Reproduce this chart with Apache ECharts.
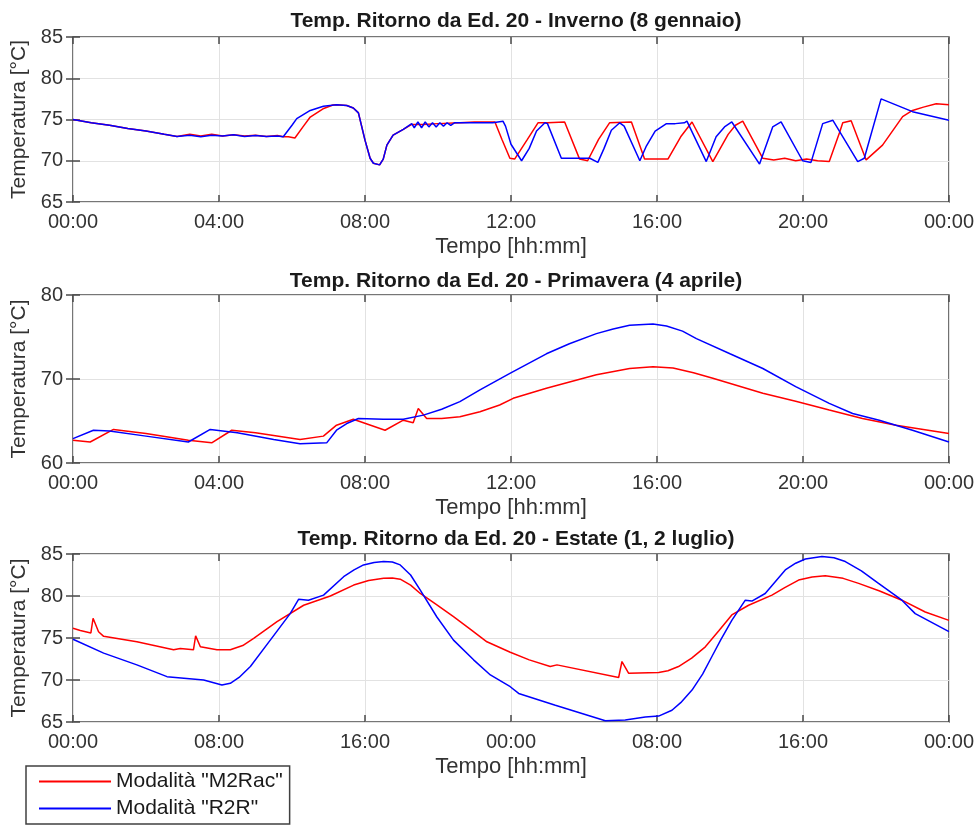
<!DOCTYPE html>
<html>
<head>
<meta charset="utf-8">
<script src="https://cdn.jsdelivr.net/npm/echarts@6/dist/echarts.min.js"></script>
<style>
html,body{margin:0;padding:0;background:#fff;}
#c{width:977px;height:825px;}
</style>
</head>
<body>
<div id="c"></div>
<script>
// ---- Data (hour, °C) ----
const titles = [
  'Temp. Ritorno da Ed. 20 - Inverno (8 gennaio)',
  'Temp. Ritorno da Ed. 20 - Primavera (4 aprile)',
  'Temp. Ritorno da Ed. 20 - Estate (1, 2 luglio)'
];
const seriesNames = ['Modalità "M2Rac"', 'Modalità "R2R"'];
const xRanges = [[0, 24, 4], [0, 24, 4], [0, 48, 8]];
const yRanges = [[65, 85, 5], [60, 80, 10], [65, 85, 5]];

const winterRed = [[0,75.0],[0.5,74.6],[1,74.3],[1.5,73.9],[2,73.6],[2.5,73.2],[2.85,72.95],[3.2,73.2],[3.5,73.0],[3.8,73.2],[4.1,73.0],[4.4,73.15],[4.7,73.0],[5.0,73.1],[5.3,72.95],[5.6,73.05],[5.76,72.9],[5.9,72.9],[6.08,72.75],[6.3,74.1],[6.5,75.3],[6.85,76.3],[7.12,76.75],[7.22,76.8],[7.5,76.7],[7.68,76.4],[7.82,75.8],[8.0,72.5],[8.14,70.3],[8.23,69.7],[8.4,69.5],[8.5,70.2],[8.6,71.9],[8.77,73.1],[9.05,73.8],[9.28,74.4],[9.6,74.4],[10.0,74.5],[10.6,74.6],[11.0,74.7],[11.56,74.7],[11.75,72.6],[11.97,70.3],[12.1,70.2],[12.45,72.6],[12.74,74.6],[13.0,74.6],[13.47,74.7],[13.88,70.2],[14.1,70.0],[14.4,72.6],[14.7,74.6],[15.3,74.7],[15.66,70.2],[16.0,70.2],[16.3,70.2],[16.65,72.9],[16.96,74.7],[17.53,69.9],[17.95,73.2],[18.15,74.3],[18.35,74.8],[18.9,70.3],[19.2,70.1],[19.5,70.3],[19.8,70.0],[20.1,70.2],[20.4,70.0],[20.72,69.9],[21.0,73.4],[21.09,74.6],[21.32,74.85],[21.73,70.1],[22.18,71.9],[22.73,75.35],[23.0,76.1],[23.3,76.5],[23.65,76.9],[24,76.8]];
const winterBlue = [[0,75.0],[0.5,74.6],[1,74.3],[1.5,73.9],[2,73.6],[2.5,73.2],[2.85,72.95],[3.2,73.1],[3.5,72.9],[3.8,73.1],[4.1,73.0],[4.4,73.15],[4.7,72.95],[5.0,73.05],[5.3,72.95],[5.6,73.0],[5.76,72.9],[6.0,74.3],[6.13,75.1],[6.5,76.1],[6.86,76.6],[7.22,76.8],[7.5,76.7],[7.68,76.4],[7.82,75.8],[8.0,72.5],[8.14,70.3],[8.23,69.7],[8.4,69.5],[8.5,70.2],[8.6,71.9],[8.77,73.1],[9.05,73.8],[9.28,74.5],[9.35,74.0],[9.45,74.7],[9.55,74.0],[9.65,74.7],[9.75,74.1],[9.85,74.6],[9.95,74.1],[10.05,74.6],[10.15,74.2],[10.25,74.6],[10.35,74.3],[10.45,74.6],[10.6,74.6],[11.0,74.6],[11.5,74.6],[11.78,74.8],[11.85,74.2],[12.0,72.0],[12.29,70.0],[12.5,71.5],[12.7,73.6],[12.93,74.6],[13.0,74.5],[13.38,70.3],[13.6,70.3],[14.16,70.3],[14.38,69.8],[14.55,71.5],[14.75,73.7],[14.98,74.6],[15.1,74.2],[15.53,70.0],[15.7,71.7],[15.95,73.6],[16.26,74.5],[16.5,74.5],[16.75,74.6],[16.82,74.8],[17.35,69.9],[17.62,72.9],[17.85,74.1],[18.05,74.7],[18.81,69.6],[19.17,74.1],[19.4,74.7],[19.99,70.0],[20.22,69.8],[20.54,74.5],[20.82,74.9],[21.5,69.9],[21.68,70.3],[22.14,77.5],[23.0,75.95],[24,74.9]];

const springRed = [[0,62.7],[0.47,62.5],[1.11,64.0],[2.0,63.5],[3.16,62.7],[3.8,62.4],[4.35,63.9],[5.0,63.6],[6.22,62.8],[6.86,63.2],[7.22,64.5],[7.68,65.2],[8.55,63.9],[9.05,65.1],[9.32,64.8],[9.46,66.5],[9.69,65.3],[10.1,65.3],[10.6,65.5],[11.15,66.1],[11.69,66.9],[12.06,67.7],[12.97,68.9],[14.34,70.5],[15.25,71.25],[15.89,71.45],[16.44,71.3],[17.0,70.75],[17.53,70.1],[18.9,68.3],[19.8,67.35],[20.72,66.3],[21.63,65.3],[22.55,64.5],[24,63.5]];
const springBlue = [[0,62.9],[0.56,63.9],[1.0,63.8],[2.0,63.2],[3.16,62.5],[3.76,64.0],[4.5,63.6],[5.5,62.8],[6.22,62.3],[6.95,62.4],[7.22,63.9],[7.5,64.7],[7.82,65.3],[8.5,65.2],[9.05,65.2],[9.6,65.7],[10.1,66.4],[10.6,67.3],[11.15,68.7],[11.97,70.66],[12.97,73.0],[13.6,74.2],[14.34,75.4],[14.8,75.95],[15.25,76.4],[15.89,76.55],[16.26,76.3],[16.7,75.7],[17.08,74.8],[18.0,73.0],[18.9,71.25],[19.8,69.1],[20.72,67.1],[21.36,65.9],[22.09,65.1],[23.0,63.9],[24,62.5]];

const summerRed = [[0,76.15],[0.4,75.9],[0.98,75.6],[1.1,77.35],[1.4,75.75],[1.68,75.2],[3.5,74.55],[5.51,73.6],[5.6,73.4],[5.88,73.75],[6.6,73.6],[6.72,75.25],[6.98,73.95],[7.89,73.6],[8.62,73.6],[9.3,74.1],[9.9,74.95],[11.18,76.95],[12.64,78.9],[14.1,80.0],[15.38,81.3],[16.2,81.85],[17.02,82.1],[17.5,82.15],[17.93,82.0],[18.5,81.3],[19.03,80.3],[19.9,79.0],[20.85,77.55],[21.8,76.0],[22.68,74.55],[23.96,73.3],[25.0,72.4],[26.15,71.6],[26.52,71.8],[29.9,70.3],[30.08,72.2],[30.45,70.8],[32.09,70.9],[32.6,71.1],[33.18,71.6],[33.9,72.6],[34.65,73.95],[35.4,75.9],[36.1,77.75],[37.02,78.9],[38.3,80.1],[39.0,81.0],[39.76,81.9],[40.5,82.25],[41.22,82.4],[42.2,82.1],[43.05,81.5],[44.2,80.6],[45.42,79.5],[46.7,78.1],[48,77.1]];
const summerBlue = [[0,74.85],[1.68,73.2],[3.5,71.8],[5.15,70.4],[7.16,70.0],[8.16,69.4],[8.62,69.6],[9.1,70.3],[9.72,71.6],[10.81,74.75],[11.9,77.9],[12.36,79.6],[12.9,79.5],[13.73,80.1],[14.83,82.3],[15.4,83.1],[15.92,83.7],[16.5,84.0],[17.02,84.1],[17.5,84.05],[17.93,83.7],[18.5,82.5],[19.03,80.7],[19.94,77.5],[20.85,74.75],[21.95,72.4],[22.87,70.6],[23.96,69.2],[24.42,68.4],[26.43,67.0],[29.17,65.15],[30.26,65.25],[31.36,65.6],[32.09,65.7],[32.82,66.4],[33.3,67.3],[33.92,68.8],[34.5,70.7],[35.01,72.8],[35.5,74.8],[36.1,77.1],[36.84,79.5],[37.2,79.4],[37.93,80.3],[39.03,83.1],[39.6,83.9],[40.13,84.4],[41.04,84.7],[41.7,84.55],[42.32,84.1],[43.2,83.0],[44.14,81.5],[45.42,79.5],[46.15,77.9],[48,75.75]];

const panelData = [[winterRed, winterBlue], [springRed, springBlue], [summerRed, summerBlue]];

// ---- Layout ----
const FONT = '"Liberation Sans", Arial, sans-serif';
const TXT = '#333333';
const AX = '#4a4a4a';
const gridTops = [37, 295, 554];
const gridHeights = [165, 168, 168];
const titleTops = [6, 266, 524];
const L = 73, W = 876;

function hhmm(v) {
  const h = Math.round(v) % 24;
  return (h < 10 ? '0' : '') + h + ':00';
}

const grid = [], xAxis = [], yAxis = [], series = [], title = [];
for (let i = 0; i < 3; i++) {
  grid.push({left: L, top: gridTops[i], width: W, height: gridHeights[i], show: true,
    borderColor: AX, borderWidth: 1.5, backgroundColor: '#fff'});
  title.push({text: titles[i], left: L + W / 2, top: titleTops[i], textAlign: 'center',
    textStyle: {fontFamily: FONT, fontSize: 21, fontWeight: 'bold', color: '#1a1a1a'}});
  const [xmin, xmax, xint] = xRanges[i];
  const [ymin, ymax, yint] = yRanges[i];
  xAxis.push({type: 'value', gridIndex: i, min: xmin, max: xmax, interval: xint, position: 'bottom',
    name: 'Tempo [hh:mm]', nameLocation: 'middle', nameGap: 34,
    nameTextStyle: {fontFamily: FONT, fontSize: 22, color: TXT},
    axisLine: {show: false}, axisTick: {inside: true, length: 7, lineStyle: {color: AX, width: 1.5}},
    axisLabel: {formatter: hhmm, fontFamily: FONT, fontSize: 20, color: TXT, margin: 10},
    splitLine: {show: true, lineStyle: {color: '#e2e2e2', width: 1}}});
  yAxis.push({type: 'value', gridIndex: i, min: ymin, max: ymax, interval: yint, position: 'left',
    name: 'Temperatura [°C]', nameLocation: 'middle', nameGap: 34,
    nameTextStyle: {fontFamily: FONT, fontSize: 21, color: TXT},
    axisLine: {show: false}, axisTick: {inside: true, length: 7, lineStyle: {color: AX, width: 1.5}},
    axisLabel: {fontFamily: FONT, fontSize: 20, color: TXT, margin: 10},
    splitLine: {show: true, lineStyle: {color: '#e2e2e2', width: 1}}});
}
for (let i = 0; i < 3; i++) {
  const [xmin, xmax, xint] = xRanges[i];
  const [ymin, ymax, yint] = yRanges[i];
  xAxis.push({type: 'value', gridIndex: i, min: xmin, max: xmax, interval: xint, position: 'top',
    axisLine: {show: false}, axisLabel: {show: false}, splitLine: {show: false},
    axisTick: {inside: true, length: 7, lineStyle: {color: AX, width: 1.5}}});
  yAxis.push({type: 'value', gridIndex: i, min: ymin, max: ymax, interval: yint, position: 'right',
    axisLine: {show: false}, axisLabel: {show: false}, splitLine: {show: false},
    axisTick: {inside: true, length: 7, lineStyle: {color: AX, width: 1.5}}});
}
const colors = ['#ff0000', '#0000ff'];
for (let i = 0; i < 3; i++) {
  for (let s = 0; s < 2; s++) {
    series.push({type: 'line', name: seriesNames[s], xAxisIndex: i, yAxisIndex: i,
      data: panelData[i][s], showSymbol: false, symbol: 'none', animation: false,
      lineStyle: {color: colors[s], width: 1.5}, itemStyle: {color: colors[s]}, z: 2 + s});
  }
}

const chart = echarts.init(document.getElementById('c'), null, {renderer: 'canvas'});
chart.setOption({
  backgroundColor: '#fff',
  animation: false,
  title: title,
  grid: grid,
  xAxis: xAxis,
  yAxis: yAxis,
  legend: {
    data: seriesNames.map(n => ({name: n, icon: 'rect'})),
    orient: 'vertical', left: 26, top: 766,
    itemWidth: 72, itemHeight: 2, itemGap: 6,
    padding: [5, 7, 5, 13],
    borderColor: '#404040', borderWidth: 1.5, backgroundColor: '#fff',
    textStyle: {fontFamily: FONT, fontSize: 21, color: '#1a1a1a', lineHeight: 20}
  },
  series: series
});
</script>
</body>
</html>
